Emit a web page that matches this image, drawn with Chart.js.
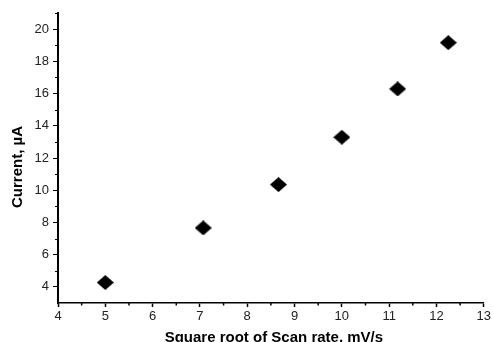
<!DOCTYPE html>
<html>
<head>
<meta charset="utf-8">
<script src="https://cdn.jsdelivr.net/npm/chart.js@4"></script>
<style>
  html, body { margin: 0; padding: 0; background: #fff; }
  #wrap { width: 493px; height: 342px; position: relative; }
</style>
</head>
<body>
<div id="wrap"><canvas id="c" width="493" height="342"></canvas></div>
<script>
// Peak current versus square root of scan rate
const sqrtScanRate = [5.0, 7.07, 8.66, 10.0, 11.18, 12.25];
const peakCurrent = [4.27, 7.66, 10.35, 13.29, 16.29, 19.16];

const xTitle = 'Square root of Scan rate, mV/s';
const yTitle = 'Current, \u00B5A';

const xRange = [4, 13];
const yRange = [3, 21];
const xMajorTicks = [4, 5, 6, 7, 8, 9, 10, 11, 12, 13];
const yMajorTicks = [4, 6, 8, 10, 12, 14, 16, 18, 20];
const xMinorTicks = [4.5, 5.5, 6.5, 7.5, 8.5, 9.5, 10.5, 11.5, 12.5];
const yMinorTicks = [5, 7, 9, 11, 13, 15, 17, 19, 21];

// Filled diamond marker, a little wider than tall
function makeDiamond(w, h) {
  const cv = document.createElement('canvas');
  cv.width = w; cv.height = h;
  const g = cv.getContext('2d');
  g.fillStyle = '#000';
  g.beginPath();
  g.moveTo(w / 2, 0);
  g.lineTo(w, h / 2);
  g.lineTo(w / 2, h);
  g.lineTo(0, h / 2);
  g.closePath();
  g.fill();
  return cv;
}
const diamond = makeDiamond(17, 15);

const FONT = '"Liberation Sans", Arial, Helvetica, sans-serif';

// Short outward minor ticks between the labelled ones
const minorTicks = {
  id: 'minorTicks',
  afterDraw(chart) {
    const { ctx, chartArea, scales } = chart;
    ctx.save();
    ctx.strokeStyle = '#000';
    ctx.lineWidth = 1.5;
    xMinorTicks.forEach(v => {
      const px = scales.x.getPixelForValue(v);
      ctx.beginPath();
      ctx.moveTo(px, chartArea.bottom);
      ctx.lineTo(px, chartArea.bottom + 2.5);
      ctx.stroke();
    });
    ctx.lineWidth = 1;
    yMinorTicks.forEach(v => {
      const py = Math.round(scales.y.getPixelForValue(v)) + 0.5;
      ctx.beginPath();
      ctx.moveTo(chartArea.left - 3, py);
      ctx.lineTo(chartArea.left, py);
      ctx.stroke();
    });
    ctx.restore();
  }
};

// Bold axis titles
const axisTitles = {
  id: 'axisTitles',
  afterDraw(chart) {
    const { ctx, chartArea } = chart;
    ctx.save();
    ctx.fillStyle = '#000';
    ctx.font = 'bold 15px ' + FONT;
    ctx.textAlign = 'center';
    ctx.textBaseline = 'alphabetic';
    ctx.fillText(xTitle, (chartArea.left + chartArea.right) / 2 + 3, 341.5);
    ctx.translate(22, 167);
    ctx.rotate(-Math.PI / 2);
    ctx.fillText(yTitle, 0, 0);
    ctx.restore();
  }
};

new Chart(document.getElementById('c'), {
  type: 'scatter',
  data: {
    datasets: [{
      data: sqrtScanRate.map((x, i) => ({ x, y: peakCurrent[i] })),
      pointStyle: diamond,
      pointRadius: 8,
      pointHoverRadius: 8,
      backgroundColor: '#000',
      borderColor: '#000'
    }]
  },
  options: {
    responsive: false,
    animation: false,
    events: [],
    layout: { padding: { left: 0, right: 7, top: 13, bottom: 0 } },
    plugins: { legend: { display: false }, tooltip: { enabled: false } },
    scales: {
      x: {
        type: 'linear',
        position: 'bottom',
        min: xRange[0],
        max: xRange[1],
        afterFit(scale) { scale.height = 39; },
        afterBuildTicks(scale) {
          scale.ticks = xMajorTicks.map(v => ({ value: v }));
        },
        ticks: {
          color: '#222',
          font: { family: FONT, size: 13 },
          padding: 2,
          maxRotation: 0
        },
        grid: {
          drawOnChartArea: false,
          drawTicks: true,
          tickLength: 4,
          tickColor: '#000',
          tickWidth: 1.5
        },
        border: { display: true, color: '#000', width: 1.5 }
      },
      y: {
        type: 'linear',
        min: yRange[0],
        max: yRange[1],
        afterFit(scale) { scale.width = 58; },
        afterBuildTicks(scale) {
          scale.ticks = yMajorTicks.map(v => ({ value: v }));
        },
        ticks: {
          color: '#222',
          font: { family: FONT, size: 13 },
          padding: 4
        },
        grid: {
          drawOnChartArea: false,
          drawTicks: true,
          tickLength: 5,
          tickColor: '#000',
          tickWidth: 1
        },
        border: { display: true, color: '#000', width: 2 }
      }
    }
  },
  plugins: [minorTicks, axisTitles]
});
</script>
</body>
</html>
